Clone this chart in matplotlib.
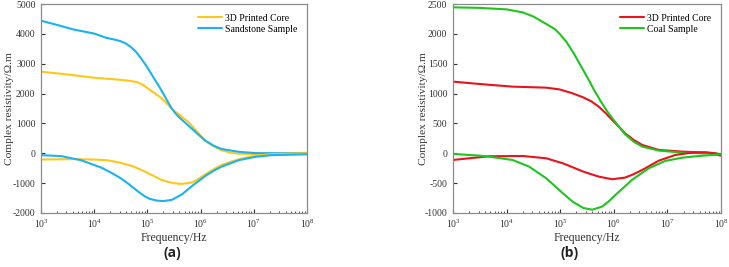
import numpy as np
import matplotlib
matplotlib.use('Agg')
import matplotlib.pyplot as plt
from matplotlib.ticker import LogLocator, FixedLocator, NullFormatter

plt.rcParams['font.family'] = ['Liberation Serif', 'DejaVu Serif']
plt.rcParams['mathtext.fontset'] = 'stix'
plt.rcParams['axes.unicode_minus'] = False

# values; x given as log10(frequency / Hz)

# panel (a): 3D printed core vs sandstone
lg_core_a_re = [3.0, 3.5, 4.0, 4.25, 4.48, 4.65, 4.8, 4.9, 4.99, 5.1, 5.24, 5.35, 5.45, 5.6, 5.78, 5.95, 6.09, 6.25, 6.4, 6.55, 6.72, 7.03, 7.34, 8.0]
core_a_re = [2733, 2640, 2530, 2495, 2463, 2430, 2385, 2310, 2194, 2060, 1880, 1700, 1500, 1290, 1030, 690, 420, 230, 100, 25, -15, -28, 0, 15]
lg_sand_re = [3.0, 3.3, 3.61, 4.0, 4.23, 4.35, 4.48, 4.58, 4.67, 4.77, 4.86, 4.98, 5.11, 5.24, 5.36, 5.45, 5.53, 5.6, 5.78, 5.95, 6.09, 6.25, 6.4, 6.72, 7.03, 7.5, 8.0]
sand_re = [4440, 4300, 4147, 4010, 3866, 3820, 3765, 3690, 3586, 3430, 3227, 2930, 2553, 2180, 1800, 1520, 1330, 1200, 910, 640, 420, 250, 140, 50, 6, 0, 0]
lg_core_a_im = [3.0, 3.61, 4.0, 4.23, 4.48, 4.74, 4.99, 5.12, 5.24, 5.37, 5.5, 5.65, 5.84, 5.95, 6.09, 6.25, 6.4, 6.72, 7.03, 7.34, 8.0]
core_a_im = [-208, -197, -210, -230, -309, -443, -645, -760, -870, -950, -1004, -1025, -975, -870, -701, -530, -387, -197, -84, -28, 0]
lg_sand_im = [3.0, 3.38, 3.75, 4.13, 4.32, 4.5, 4.67, 4.86, 4.96, 5.05, 5.18, 5.3, 5.46, 5.65, 5.84, 6.09, 6.25, 6.4, 6.72, 7.03, 7.34, 8.0]
sand_im = [-62, -95, -230, -477, -650, -836, -1060, -1330, -1450, -1530, -1585, -1600, -1560, -1375, -1094, -757, -580, -443, -230, -118, -62, -35]

# panel (b): 3D printed core vs coal
lg_core_b_re = [3.0, 3.49, 4.11, 4.74, 4.98, 5.1, 5.23, 5.42, 5.58, 5.72, 5.85, 5.97, 6.1, 6.21, 6.37, 6.53, 6.84, 7.28, 7.72, 8.0]
core_b_re = [1200, 1161, 1116, 1099, 1071, 1040, 1004, 940, 870, 781, 670, 558, 440, 335, 225, 140, 56, 28, 11, -40]
lg_coal_re = [3.0, 3.5, 4.0, 4.3, 4.5, 4.75, 4.9, 5.0, 5.12, 5.25, 5.35, 5.45, 5.55, 5.62, 5.75, 5.87, 5.97, 6.1, 6.21, 6.37, 6.53, 6.84, 7.28, 8.0]
coal_re = [2444, 2435, 2410, 2360, 2290, 2160, 2080, 1990, 1860, 1680, 1520, 1360, 1200, 1080, 880, 710, 590, 440, 320, 195, 112, 45, 11, -10]
lg_core_b_im = [3.0, 3.25, 3.49, 3.67, 4.3, 4.74, 5.05, 5.25, 5.43, 5.72, 5.97, 6.21, 6.37, 6.53, 6.84, 7.15, 7.46, 7.72, 7.9, 8.0]
core_b_im = [-112, -88, -67, -50, -45, -84, -168, -240, -307, -391, -435, -407, -350, -279, -123, -28, 11, 17, 0, -28]
lg_coal_im = [3.0, 3.49, 3.67, 4.11, 4.42, 4.74, 5.05, 5.23, 5.43, 5.6, 5.78, 5.9, 6.03, 6.34, 6.65, 6.96, 7.28, 7.59, 8.0]
coal_im = [-11, -39, -56, -112, -223, -419, -670, -809, -915, -945, -893, -810, -698, -446, -251, -128, -73, -45, -17]


def hz(lg):
    return 10.0 ** np.asarray(lg)


def style_axes(ax, yticks, ylim, ylab_x):
    ax.set_xscale('log')
    ax.set_xlim(1e3, 1e8)
    ax.set_ylim(*ylim)
    ax.yaxis.set_major_locator(FixedLocator(yticks))
    ax.xaxis.set_major_locator(LogLocator(base=10, numticks=10))
    ax.xaxis.set_minor_locator(LogLocator(base=10, subs=np.arange(2, 10), numticks=20))
    ax.xaxis.set_minor_formatter(NullFormatter())
    ax.tick_params(axis='both', which='both', direction='in', labelsize=7, colors='#333333')
    ax.tick_params(axis='x', which='major', length=3, pad=3)
    ax.tick_params(axis='x', which='minor', length=1.5)
    ax.tick_params(axis='y', which='major', length=3, pad=4)
    for s in ax.spines.values():
        s.set_color('#8c8c8c')
        s.set_linewidth(0.9)
    ax.set_xlabel('Frequency/Hz', fontsize=8.5, color='#333333')
    ax.set_ylabel('Complex resistivity/\u03a9.m', fontsize=8.2, color='#333333')
    ax.xaxis.set_label_coords(0.5, -0.09)
    ax.yaxis.set_label_coords(ylab_x, 0.5)


fig = plt.figure(figsize=(7.29, 2.67), dpi=100)
ax1 = fig.add_axes([41 / 729, 54 / 267, 266 / 729, 209 / 267])
ax2 = fig.add_axes([453 / 729, 54 / 267, 268 / 729, 209 / 267])

yellow = '#FFC61A'
blue = '#1AB2F0'
red = '#E8131B'
green = '#1FC41F'
kw = dict(lw=1.5, solid_joinstyle='round', solid_capstyle='round')

ax1.plot(hz(lg_core_a_re), core_a_re, color=yellow, label='3D Printed Core', **kw)
ax1.plot(hz(lg_sand_re), sand_re, color=blue, label='Sandstone Sample', **kw)
ax1.plot(hz(lg_core_a_im), core_a_im, color=yellow, **kw)
ax1.plot(hz(lg_sand_im), sand_im, color=blue, **kw)
style_axes(ax1, [-2000, -1000, 0, 1000, 2000, 3000, 4000, 5000], (-2000, 5000), -0.10)

ax2.plot(hz(lg_core_b_re), core_b_re, color=red, label='3D Printed Core', **kw)
ax2.plot(hz(lg_coal_re), coal_re, color=green, label='Coal Sample', **kw)
ax2.plot(hz(lg_core_b_im), core_b_im, color=red, **kw)
ax2.plot(hz(lg_coal_im), coal_im, color=green, **kw)
style_axes(ax2, [-1000, -500, 0, 500, 1000, 1500, 2000, 2500], (-1000, 2500), -0.093)

for ax in (ax1, ax2):
    ax.legend(loc='upper right', frameon=False, fontsize=7, handlelength=2.5,
              handletextpad=0.3, labelspacing=0.2, borderaxespad=0.6)

fig.text(172 / 729, 1 - 253 / 267, '(a)', ha='center', va='center',
         fontsize=10, fontweight='bold', family='Open Sans', color='#222222')
fig.text(570 / 729, 1 - 253 / 267, '(b)', ha='center', va='center',
         fontsize=10, fontweight='bold', family='Open Sans', color='#222222')

fig.savefig('out.png', dpi=100)
